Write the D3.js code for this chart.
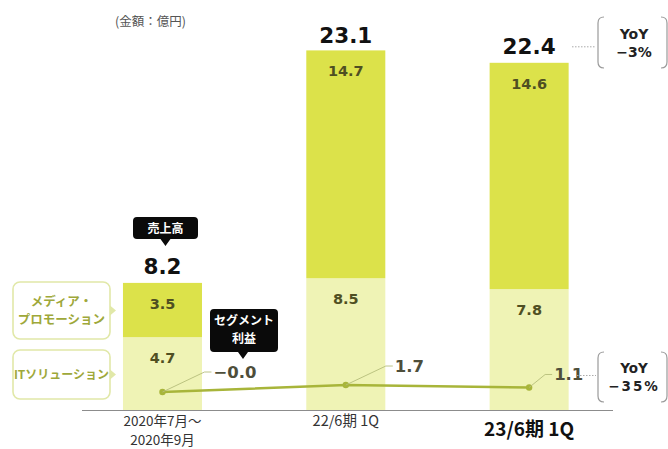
<!DOCTYPE html>
<html>
<head>
<meta charset="utf-8">
<script src="https://cdn.jsdelivr.net/npm/d3@7/dist/d3.min.js"></script>
<style>
  html, body { margin: 0; padding: 0; background: #fff; }
  svg { display: block; }
</style>
</head>
<body>
<div id="chart"></div>
<script>
// Quarterly sales by segment (億円) and segment profit
const periods = ["2020年7月～\n2020年9月", "22/6期 1Q", "23/6期 1Q"];
const itSolution = [4.7, 8.5, 7.8];
const mediaPromotion = [3.5, 14.7, 14.6];
const totalSales = [8.2, 23.1, 22.4];
const segmentProfit = [0.0, 1.7, 1.1];
const profitLabels = ["\u22120.0", "1.7", "1.1"];
const yoySales = ["YoY", "\u22123%"];
const yoyProfit = ["YoY", "\u221235%"];
const legendNames = [["メディア・", "プロモーション"], ["ITソリューション"]];

const W = 668, H = 449;
const svg = d3.select("#chart").append("svg").attr("width", W).attr("height", H);

const C = {
  media: "#dce24a",
  it: "#eff3b5",
  value: "#4f4f22",
  line: "#a8b53a",
  legendBorder: "#e1e8a8",
  legendText: "#9ea83a",
  axis: "#8c8c8c",
  bracket: "#9a9a9a"
};
const NUM = "'DejaVu Sans', Verdana, sans-serif";
const JP = "'Noto Sans CJK JP', 'Noto Sans', sans-serif";

const baseY = 410;
const x = d3.scaleBand().domain(periods).range([31.3, 660.3]).paddingInner(0.569).paddingOuter(0.5);
const y = d3.scaleLinear().domain([0, 25]).range([baseY, baseY - 25 * 15.5]);
const yp = d3.scaleLinear().domain([0, 10]).range([392, 351]);

const bw = x.bandwidth();
const cx = d => x(d) + bw / 2;

// stacked bars
const rows = periods.map((p, i) => ({ p, it: itSolution[i], media: mediaPromotion[i], total: totalSales[i] }));
const g = svg.append("g");
g.selectAll("rect.it").data(rows).join("rect")
  .attr("x", d => x(d.p)).attr("width", bw)
  .attr("y", d => y(d.it)).attr("height", d => y(0) - y(d.it))
  .attr("fill", C.it);
g.selectAll("rect.media").data(rows).join("rect")
  .attr("x", d => x(d.p)).attr("width", bw)
  .attr("y", d => y(d.it + d.media)).attr("height", d => y(d.it) - y(d.it + d.media))
  .attr("fill", C.media);

// segment values
g.selectAll("text.itv").data(rows).join("text")
  .attr("x", d => cx(d.p)).attr("y", d => y(d.it) + 26)
  .attr("text-anchor", "middle").attr("font-family", NUM).attr("font-weight", "bold")
  .attr("font-size", 14.5).attr("fill", C.value).text(d => d.it.toFixed(1));
g.selectAll("text.mv").data(rows).join("text")
  .attr("x", d => cx(d.p)).attr("y", d => y(d.it + d.media) + 26)
  .attr("text-anchor", "middle").attr("font-family", NUM).attr("font-weight", "bold")
  .attr("font-size", 14.5).attr("fill", C.value).text(d => d.media.toFixed(1));

// totals
g.selectAll("text.tot").data(rows).join("text")
  .attr("x", d => cx(d.p)).attr("y", d => y(d.total) - 9)
  .attr("text-anchor", "middle").attr("font-family", NUM).attr("font-weight", "bold")
  .attr("font-size", 21.5).attr("fill", "#111").text(d => d.total.toFixed(1));

// baseline
svg.append("line").attr("x1", 82).attr("x2", 613).attr("y1", baseY + 0.5).attr("y2", baseY + 0.5)
  .attr("stroke", C.axis).attr("stroke-width", 1.2);

// x labels
periods.forEach((p, i) => {
  const last = i === periods.length - 1;
  const lines = p.split("\n");
  const fs = last ? 19 : (lines.length > 1 ? 13.5 : 14.5);
  const t = svg.append("text").attr("text-anchor", "middle").attr("font-family", JP)
    .attr("font-size", fs).attr("font-weight", last ? "bold" : "normal")
    .attr("fill", last ? "#111" : "#333");
  lines.forEach((ln, j) => {
    t.append("tspan").attr("x", cx(p)).attr("y", (last ? 436 : 425.5) + j * 19.6).text(ln);
  });
});

// profit line
const pts = periods.map((p, i) => [cx(p), yp(segmentProfit[i])]);
svg.append("path").attr("d", d3.line()(pts)).attr("fill", "none")
  .attr("stroke", C.line).attr("stroke-width", 2.5);
svg.selectAll("circle.pp").data(pts).join("circle")
  .attr("cx", d => d[0]).attr("cy", d => d[1]).attr("r", 3.2).attr("fill", C.line);

// profit labels with leader lines
const leaderEnds = [[42, -20], [40, -19], [16, -13]];
pts.forEach((pt, i) => {
  const [dx, dy] = leaderEnds[i];
  const ex = pt[0] + dx, ey = pt[1] + dy;
  svg.append("polyline")
    .attr("points", `${pt[0]},${pt[1]} ${ex},${ey} ${ex + 7},${ey}`)
    .attr("fill", "none").attr("stroke", "#b5bd7a").attr("stroke-width", 0.9);
  svg.append("text").attr("x", ex + 9).attr("y", ey + 6)
    .attr("font-family", NUM).attr("font-weight", "bold").attr("font-size", 16.5)
    .attr("fill", "#4e4e3a").text(profitLabels[i]);
});

// unit note
svg.append("text").attr("x", 115).attr("y", 26).attr("font-family", JP)
  .attr("font-size", 12.5).attr("fill", "#555").text("(金額：億円)");

// black callouts
function callout(x0, y0, w, h, tipX, tipLen, lines) {
  const r = 4;
  const path = `M${x0 + r},${y0} H${x0 + w - r} Q${x0 + w},${y0} ${x0 + w},${y0 + r}
    V${y0 + h - r} Q${x0 + w},${y0 + h} ${x0 + w - r},${y0 + h}
    H${tipX + 5} L${tipX},${y0 + h + tipLen} L${tipX - 5},${y0 + h}
    H${x0 + r} Q${x0},${y0 + h} ${x0},${y0 + h - r} V${y0 + r} Q${x0},${y0} ${x0 + r},${y0} Z`;
  svg.append("path").attr("d", path).attr("fill", "#0a0a0a");
  lines.forEach((ln, j) => {
    svg.append("text").attr("x", x0 + w / 2).attr("y", y0 + 16 + j * 17.5)
      .attr("text-anchor", "middle").attr("font-family", JP).attr("font-weight", "bold")
      .attr("font-size", 12).attr("fill", "#fff").text(ln);
  });
}
callout(133, 217, 65, 22, cx(periods[0]) + 3, 7, ["売上高"]);
callout(210, 309, 68, 43, 243, 7, ["セグメント", "利益"]);

// legend boxes with pointers
function legendBox(y0, h, lines) {
  const x0 = 13, w = 97;
  svg.append("rect").attr("x", x0).attr("y", y0).attr("width", w).attr("height", h)
    .attr("rx", 7).attr("fill", "#fff").attr("stroke", C.legendBorder).attr("stroke-width", 1.6);
  const my = y0 + h / 2;
  svg.append("path").attr("d", `M${x0 + w},${my - 5} L${x0 + w + 6},${my} L${x0 + w},${my + 5} Z`)
    .attr("fill", C.legendBorder);
  lines.forEach((ln, j) => {
    svg.append("text").attr("x", x0 + w / 2).attr("y", my + 4.5 + (j - (lines.length - 1) / 2) * 18)
      .attr("text-anchor", "middle").attr("font-family", JP).attr("font-weight", "bold")
      .attr("font-size", lines.length === 1 ? 12 : 12.5).attr("fill", C.legendText).text(ln);
  });
}
legendBox(282, 57, legendNames[0]);
legendBox(350, 49, legendNames[1]);

// YoY brackets
function yoy(textLines, dotFrom, dotY, top, bottom, fs, spacing) {
  svg.append("line").attr("x1", dotFrom).attr("x2", 596).attr("y1", dotY).attr("y2", dotY)
    .attr("stroke", "#aaa").attr("stroke-width", 1).attr("stroke-dasharray", "1.5,1.5");
  const l = 598, r = 667, c = 6;
  svg.append("path").attr("d", `M${l + c},${top} Q${l},${top} ${l},${top + c} V${bottom - c} Q${l},${bottom} ${l + c},${bottom}`)
    .attr("fill", "none").attr("stroke", C.bracket).attr("stroke-width", 1.2);
  svg.append("path").attr("d", `M${r - c},${top} Q${r},${top} ${r},${top + c} V${bottom - c} Q${r},${bottom} ${r - c},${bottom}`)
    .attr("fill", "none").attr("stroke", C.bracket).attr("stroke-width", 1.2);
  const mid = (top + bottom) / 2;
  textLines.forEach((ln, j) => {
    svg.append("text").attr("x", 634).attr("y", mid - 4 + j * 18)
      .attr("text-anchor", "middle").attr("font-family", NUM).attr("font-weight", "bold")
      .attr("letter-spacing", j === 1 ? spacing : 0)
      .attr("font-size", fs).attr("fill", "#222").text(ln);
  });
}
yoy(yoySales, 572, y(totalSales[2]) - 16, 17, 68, 14, 0);
yoy(yoyProfit, 577, pts[2][1] - 12, 352, 402, 13.5, 2);
</script>
</body>
</html>
